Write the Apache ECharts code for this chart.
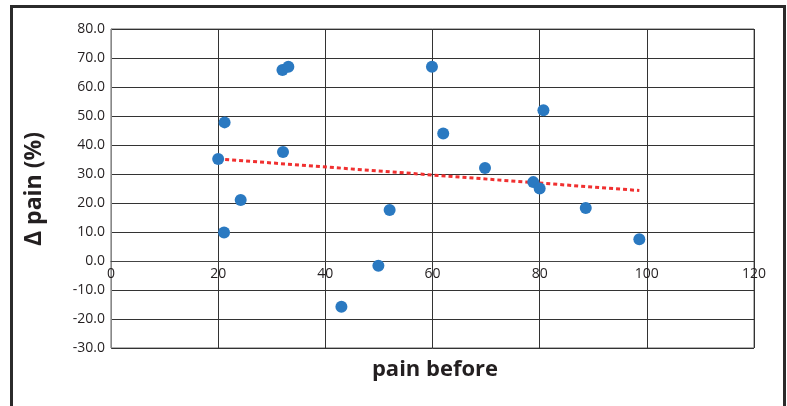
<!DOCTYPE html>
<html>
<head>
<meta charset="utf-8">
<script src="https://cdn.jsdelivr.net/npm/echarts@6/dist/echarts.min.js"></script>
<style>
  html, body { margin: 0; padding: 0; background: #fff; overflow: hidden; }
  #frame { position: absolute; left: 10px; top: 5px; width: 770px; height: 440px; border: 3px solid #2b2b2b; }
  #chart { position: absolute; left: 0; top: 0; width: 787px; height: 406px; }
</style>
</head>
<body>
<div id="frame"></div>
<div id="chart"></div>
<script>
// pain before (x) and change in pain % (y)
var painBefore = [32.0, 33.1, 21.2, 20.0, 32.1, 24.2, 59.9, 80.7, 62.0, 69.8, 78.8, 80.0, 21.1, 49.9, 43.0, 52.0, 88.6, 98.6];
var painDelta  = [65.9, 67.0, 47.8, 35.2, 37.6, 21.0, 67.0, 52.0, 44.0, 32.1, 27.2, 25.0, 9.8, -1.6, -15.8, 17.6, 18.3, 7.5];

// linear trend endpoints
var trendX = [20.0, 98.6];
var trendY = [35.2, 24.3];

var chart = echarts.init(document.getElementById('chart'));

var pts = painBefore.map(function (x, i) { return [x, painDelta[i]]; });
var trend = trendX.map(function (x, i) { return [x, trendY[i]]; });

var option = {
    animation: false,
    grid: { left: 111, top: 29, width: 643, height: 319, show: true, borderColor: '#666', borderWidth: 1 },
    xAxis: {
        type: 'value',
        min: 0, max: 120, interval: 20,
        offset: -87,  // put labels on the y = 0 line
        axisLine: { show: true, onZero: false, lineStyle: { color: '#444' } },
        axisTick: { show: false },
        axisLabel: { color: '#231f20', fontSize: 14, fontFamily: 'Open Sans', margin: 6 },
        splitLine: { show: true, lineStyle: { color: '#333', width: 1 } }
    },
    yAxis: {
        type: 'value',
        min: -30, max: 80, interval: 10,
        axisLine: { show: true, lineStyle: { color: '#888' } },
        axisTick: { show: false },
        axisLabel: {
            color: '#231f20', fontSize: 14, fontFamily: 'Open Sans', margin: 6,
            formatter: function (v) { return v.toFixed(1); }
        },
        splitLine: { show: true, lineStyle: { color: '#333', width: 1 } }
    },
    graphic: [
        {
            type: 'text', x: 435, y: 370,
            style: { text: 'pain before', font: 'bold 22px "Open Sans"', fill: '#231f20', align: 'center', verticalAlign: 'middle' }
        },
        {
            type: 'text', rotation: Math.PI / 2, x: 34, y: 189,
            style: { text: 'Δ pain (%)', font: 'bold 23px "Open Sans"', fill: '#231f20', align: 'center', verticalAlign: 'middle' }
        }
    ],
    series: [
        {
            type: 'line',
            data: trend,
            symbol: 'none',
            lineStyle: { color: '#f03030', width: 3, type: [4, 3] },
            z: 3
        },
        {
            type: 'scatter',
            data: pts,
            symbolSize: 12,
            itemStyle: { color: '#2a79c1', opacity: 1 },
            z: 4
        }
    ]
};

chart.setOption(option);
</script>
</body>
</html>
